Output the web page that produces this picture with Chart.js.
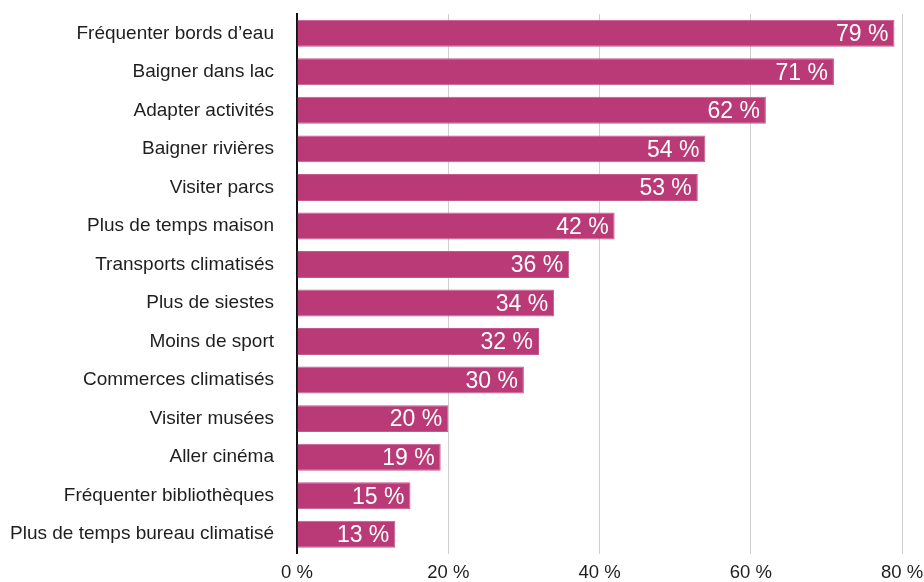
<!DOCTYPE html>
<html>
<head>
<meta charset="utf-8">
<script src="https://cdn.jsdelivr.net/npm/chart.js@4.4.1/dist/chart.umd.min.js"></script>
<style>
    html, body { margin: 0; padding: 0; background: #fff; }
    #wrap { width: 924px; height: 582px; }
</style>
</head>
<body>
<div id="wrap"><canvas id="grafico"></canvas></div>
<script>
// Catégories et pourcentages
const categories = [
    'Fréquenter bords d’eau',
    'Baigner dans lac',
    'Adapter activités',
    'Baigner rivières',
    'Visiter parcs',
    'Plus de temps maison',
    'Transports climatisés',
    'Plus de siestes',
    'Moins de sport',
    'Commerces climatisés',
    'Visiter musées',
    'Aller cinéma',
    'Fréquenter bibliothèques',
    'Plus de temps bureau climatisé'
];
const pourcentages = [79, 71, 62, 54, 53, 42, 36, 34, 32, 30, 20, 19, 15, 13];
const ticksX = [0, 20, 40, 60, 80];

const fonte = '"Liberation Sans", Arial, Helvetica, sans-serif';

// Étiquettes de valeur à l'intérieur des barres
const etiquettesBarres = {
    id: 'etiquettesBarres',
    afterDatasetsDraw(chart) {
        const ctx = chart.ctx;
        const meta = chart.getDatasetMeta(0);
        ctx.save();
        ctx.fillStyle = '#ffffff';
        ctx.font = '23px ' + fonte;
        ctx.textAlign = 'right';
        ctx.textBaseline = 'middle';
        meta.data.forEach((bar, i) => {
            ctx.fillText(pourcentages[i] + ' %', bar.x - 6, bar.y + 1.5);
        });
        ctx.restore();
    }
};

new Chart(document.getElementById('grafico'), {
    type: 'bar',
    data: {
        labels: categories,
        datasets: [{
            data: pourcentages,
            backgroundColor: '#b93a76',
            borderColor: '#c45a8b',
            borderWidth: 1,
            borderSkipped: 'start',
            barPercentage: 0.7,
            categoryPercentage: 1
        }]
    },
    options: {
        indexAxis: 'y',
        responsive: true,
        maintainAspectRatio: false,
        animation: false,
        layout: { padding: { left: 0, right: 22, top: 14, bottom: 0 } },
        plugins: {
            legend: { display: false },
            tooltip: { enabled: false }
        },
        scales: {
            x: {
                min: 0,
                max: 80,
                afterBuildTicks(scale) {
                    scale.ticks = ticksX.map(v => ({ value: v }));
                },
                // l'espace sous l'axe passe par tickLength (marques invisibles)
                grid: {
                    color: '#cfcfcf',
                    lineWidth: 1,
                    drawTicks: true,
                    tickLength: 10,
                    tickColor: 'rgba(0,0,0,0)'
                },
                border: { display: false },
                ticks: {
                    padding: 0,
                    color: '#1e1e1e',
                    font: { family: fonte, size: 18.5, lineHeight: 1 },
                    callback: v => v + ' %'
                }
            },
            y: {
                afterFit(scale) { scale.width = 297; },
                grid: {
                    display: true,
                    color: 'rgba(0,0,0,0)',
                    drawTicks: true,
                    tickLength: 23,
                    tickColor: 'rgba(0,0,0,0)'
                },
                border: { display: true, color: '#111', width: 2 },
                ticks: {
                    padding: 0,
                    color: '#1e1e1e',
                    font: { family: fonte, size: 19 }
                }
            }
        }
    },
    plugins: [etiquettesBarres]
});
</script>
</body>
</html>
